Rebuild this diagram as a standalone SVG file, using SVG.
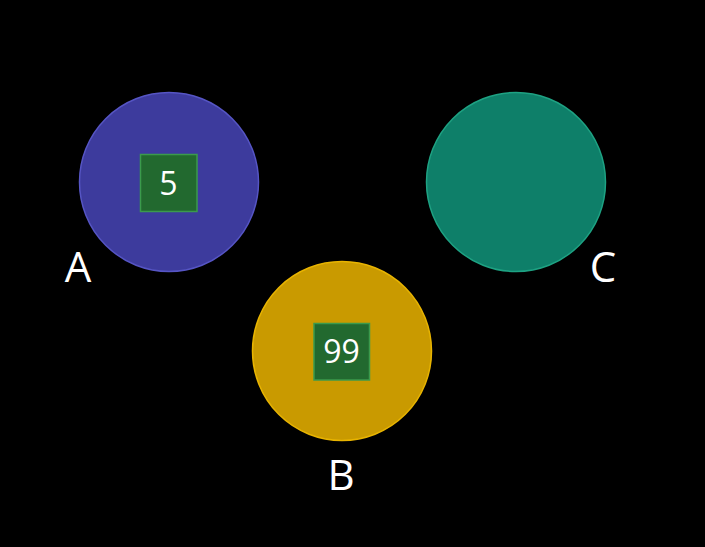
<svg xmlns="http://www.w3.org/2000/svg" width="705" height="547" viewBox="0 0 705 547">
<style>
.lbl{font-family:"Open Sans","Noto Sans",sans-serif;fill:#ffffff;text-anchor:middle}
.big{font-size:42px}
.num{font-size:32px}
.box{fill:#22692f;stroke:#3b9a4c;stroke-width:1.5}
</style>
<rect width="705" height="547" fill="#000000"/>
<g id="connectors"></g>
<g id="A">
<circle cx="169" cy="182" r="89.5" fill="#3d3b9d" stroke="#5655c4" stroke-width="1.5"/>
<rect class="box" x="140.5" y="154.5" width="56.5" height="57"/>
<text class="lbl num" x="168.5" y="195">5</text>
<text class="lbl big" x="78" y="282">A</text>
</g>
<g id="B">
<circle cx="342" cy="351" r="89.5" fill="#c99a00" stroke="#e8b400" stroke-width="1.5"/>
<rect class="box" x="314" y="323.5" width="55.5" height="56.5"/>
<text class="lbl num" x="341.5" y="363">99</text>
<text class="lbl big" x="341" y="490">B</text>
</g>
<g id="C">
<circle cx="516" cy="182" r="89.5" fill="#0e7f69" stroke="#1ea283" stroke-width="1.5"/>
<text class="lbl big" x="603" y="282">C</text>
</g>
</svg>
